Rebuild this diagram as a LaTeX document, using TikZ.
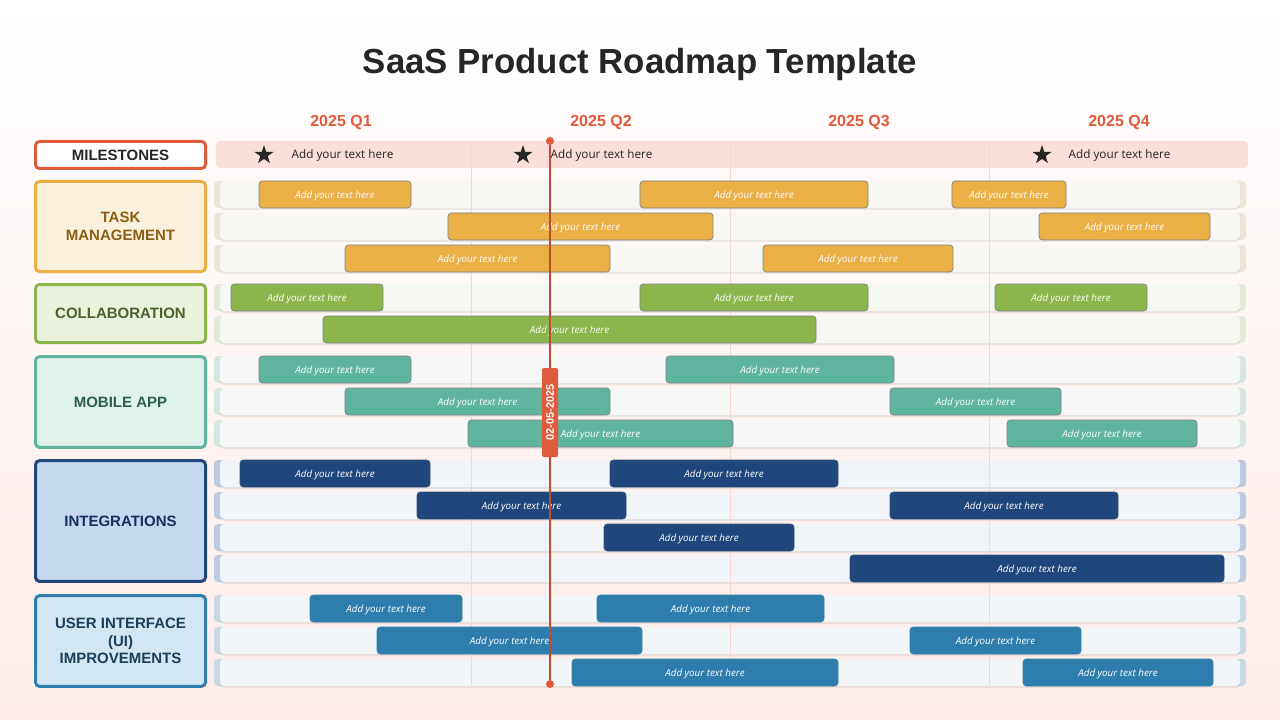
\documentclass[tikz,border=0pt]{standalone}
\usepackage{fontspec}
\setmainfont{Liberation Sans}
\newfontfamily\barfont{Open Sans}
\usetikzlibrary{shapes.geometric,shadows}
\definecolor{accent}{HTML}{E05A3C}
\definecolor{pagepink}{HTML}{FDECE8}
\definecolor{bandpink}{HTML}{FBDDD9}
\definecolor{gridpink}{HTML}{F8D5CD}
\definecolor{ink}{HTML}{262626}
\definecolor{taskc}{HTML}{EBB045}
\definecolor{collabc}{HTML}{8CB54C}
\definecolor{mobilec}{HTML}{5FB5A0}
\definecolor{integc}{HTML}{20477B}
\definecolor{uic}{HTML}{2E7EAD}
\definecolor{taskfill}{HTML}{FBF0DB}
\definecolor{collabfill}{HTML}{EAF2DE}
\definecolor{mobilefill}{HTML}{DFF2EC}
\definecolor{integfill}{HTML}{C6D7F0}
\definecolor{uifill}{HTML}{D2E6F3}
\definecolor{tasktext}{HTML}{8B5E14}
\definecolor{collabtext}{HTML}{4A6228}
\definecolor{mobiletext}{HTML}{2B5F52}
\definecolor{integtext}{HTML}{14305A}
\definecolor{uitext}{HTML}{1A3F5C}
\definecolor{tasktab}{HTML}{EDE6D8}
\definecolor{collabtab}{HTML}{E4EADA}
\definecolor{mobiletab}{HTML}{D6E6E1}
\definecolor{integtab}{HTML}{BCCAE0}
\definecolor{uitab}{HTML}{C6D9E3}
\definecolor{taskrow}{HTML}{F9F7F4}
\definecolor{collabrow}{HTML}{F6F8F3}
\definecolor{mobilerow}{HTML}{F5F8F7}
\definecolor{integrow}{HTML}{F1F4F9}
\definecolor{uirow}{HTML}{F2F6F9}
\tikzset{
every node/.style={inner sep=0pt, align=center},
catbox/.style={rectangle, rounded corners=3pt, line width=2.25pt, minimum width=127.5pt, font=\fontsize{11.25}{13.2}\selectfont\bfseries},
quarter/.style={text=accent, font=\fontsize{12}{14}\selectfont\bfseries},
milenote/.style={text=ink, text depth=0pt, font=\barfont\fontsize{8.8}{10}\selectfont},
milestar/.style={star, star points=5, star point ratio=2.6, fill=ink, minimum size=15pt},
track/.style={rectangle, rounded corners=3pt, fill=#1, minimum width=765pt, minimum height=20.25pt, general shadow={fill=black, opacity=.07, shadow xshift=0pt, shadow yshift=-1.5pt, scale=1}},
tab/.style={rectangle, rounded corners=3pt, fill=#1, minimum width=774pt, minimum height=20.25pt},
bar/.style={rectangle, rounded corners=2.5pt, draw=gray, line width=.5pt, minimum height=20.25pt, text=white, text depth=0pt, font=\barfont\itshape\fontsize{7.35}{8}\selectfont},
taskbar/.style={bar, fill=taskc, minimum width=#1*0.75pt},
collabbar/.style={bar, fill=collabc, minimum width=#1*0.75pt},
mobilebar/.style={bar, fill=mobilec, minimum width=#1*0.75pt},
integbar/.style={bar, fill=integc, draw=integc!80!gray, minimum width=#1*0.75pt},
uibar/.style={bar, fill=uic, draw=uic!80!gray, minimum width=#1*0.75pt},
enddot/.style={circle, fill=accent, minimum size=6pt}
}
\begin{document}
\begin{tikzpicture}[x=0.75pt, y=-0.75pt]
\shade[top color=white, bottom color=pagepink] (0,0) rectangle (1280,720);
\useasboundingbox (0,0) rectangle (1280,720);

\node [text=ink, font=\fontsize{26.1}{31}\selectfont\bfseries] (title) at (640,64.5) {SaaS Product Roadmap Template};

\node [quarter] (q1) at (341,122) {2025 Q1};
\node [quarter] (q2) at (601,122) {2025 Q2};
\node [quarter] (q3) at (859,122) {2025 Q3};
\node [quarter] (q4) at (1119,122) {2025 Q4};

% left column
\node [catbox, draw=accent, fill=white, text=ink, minimum height=20.25pt] (milestones) at (120.5,155) {MILESTONES};
\node [catbox, draw=taskc, fill=taskfill, text=tasktext, minimum height=67.5pt] (task) at (120.5,226.5) {TASK\\MANAGEMENT};
\node [catbox, draw=collabc, fill=collabfill, text=collabtext, minimum height=43.5pt] (collab) at (120.5,313.5) {COLLABORATION};
\node [catbox, draw=mobilec, fill=mobilefill, text=mobiletext, minimum height=68pt] (mobile) at (120.5,402) {MOBILE APP};
\node [catbox, draw=integc, fill=integfill, text=integtext, minimum height=90.5pt] (integ) at (120.5,521) {INTEGRATIONS};
\node [catbox, draw=uic, fill=uifill, text=uitext, minimum height=68pt] (ui) at (120.5,641) {USER INTERFACE\\(UI)\\IMPROVEMENTS};

% milestone band
\node [rectangle, rounded corners=3pt, fill=bandpink, minimum width=774pt, minimum height=20.25pt] (band) at (732,154.5) {};

% tracks
\node [tab=tasktab] (tabT1) at (730,194.5) {};
\node [track=taskrow] (rowT1) at (730,194.5) {};
\node [tab=tasktab] (tabT2) at (730,226.5) {};
\node [track=taskrow] (rowT2) at (730,226.5) {};
\node [tab=tasktab] (tabT3) at (730,258.5) {};
\node [track=taskrow] (rowT3) at (730,258.5) {};
\node [tab=collabtab] (tabC1) at (730,297.5) {};
\node [track=collabrow] (rowC1) at (730,297.5) {};
\node [tab=collabtab] (tabC2) at (730,329.5) {};
\node [track=collabrow] (rowC2) at (730,329.5) {};
\node [tab=mobiletab] (tabM1) at (730,369.5) {};
\node [track=mobilerow] (rowM1) at (730,369.5) {};
\node [tab=mobiletab] (tabM2) at (730,401.5) {};
\node [track=mobilerow] (rowM2) at (730,401.5) {};
\node [tab=mobiletab] (tabM3) at (730,433.5) {};
\node [track=mobilerow] (rowM3) at (730,433.5) {};
\node [tab=integtab] (tabI1) at (730,473.5) {};
\node [track=integrow] (rowI1) at (730,473.5) {};
\node [tab=integtab] (tabI2) at (730,505.5) {};
\node [track=integrow] (rowI2) at (730,505.5) {};
\node [tab=integtab] (tabI3) at (730,537.5) {};
\node [track=integrow] (rowI3) at (730,537.5) {};
\node [tab=integtab] (tabI4) at (730,568.5) {};
\node [track=integrow] (rowI4) at (730,568.5) {};
\node [tab=uitab] (tabU1) at (730,608.5) {};
\node [track=uirow] (rowU1) at (730,608.5) {};
\node [tab=uitab] (tabU2) at (730,640.5) {};
\node [track=uirow] (rowU2) at (730,640.5) {};
\node [tab=uitab] (tabU3) at (730,672.5) {};
\node [track=uirow] (rowU3) at (730,672.5) {};

% quarter dividers
\node (d1top) at (471.5,141) {};
\node (d1end) at (471.5,686) {};
\node (d2top) at (730.5,141) {};
\node (d2end) at (730.5,686) {};
\node (d3top) at (989.5,141) {};
\node (d3end) at (989.5,686) {};
\draw[gridpink, line width=.75pt] (d1top) -- (d1end);
\draw[gridpink, line width=.75pt] (d2top) -- (d2end);
\draw[gridpink, line width=.75pt] (d3top) -- (d3end);

% milestones
\node [milestar] (star1) at (264,155) {};
\node [milestar] (star2) at (523,155) {};
\node [milestar] (star3) at (1042,155) {};
\node [milenote] (note1) at (342.5,154) {Add your text here};
\node [milenote] (note2) at (601.5,154) {Add your text here};
\node [milenote] (note3) at (1119.5,154) {Add your text here};

% bars
\node [taskbar=152] (barT1a) at (335,194.5) {Add your text here};
\node [taskbar=228] (barT1b) at (754,194.5) {Add your text here};
\node [taskbar=114] (barT1c) at (1009,194.5) {Add your text here};
\node [taskbar=265] (barT2a) at (580.5,226.5) {Add your text here};
\node [taskbar=171] (barT2b) at (1124.5,226.5) {Add your text here};
\node [taskbar=265] (barT3a) at (477.5,258.5) {Add your text here};
\node [taskbar=190] (barT3b) at (858,258.5) {Add your text here};

\node [collabbar=152] (barC1a) at (307,297.5) {Add your text here};
\node [collabbar=228] (barC1b) at (754,297.5) {Add your text here};
\node [collabbar=152] (barC1c) at (1071,297.5) {Add your text here};
\node [collabbar=493] (barC2a) at (569.5,329.5) {Add your text here};

\node [mobilebar=152] (barM1a) at (335,369.5) {Add your text here};
\node [mobilebar=228] (barM1b) at (780,369.5) {Add your text here};
\node [mobilebar=265] (barM2a) at (477.5,401.5) {Add your text here};
\node [mobilebar=171] (barM2b) at (975.5,401.5) {Add your text here};
\node [mobilebar=265] (barM3a) at (600.5,433.5) {Add your text here};
\node [mobilebar=190] (barM3b) at (1102,433.5) {Add your text here};

\node [integbar=190] (barI1a) at (335,473.5) {Add your text here};
\node [integbar=228] (barI1b) at (724,473.5) {Add your text here};
\node [integbar=209] (barI2a) at (521.5,505.5) {Add your text here};
\node [integbar=228] (barI2b) at (1004,505.5) {Add your text here};
\node [integbar=190] (barI3a) at (699,537.5) {Add your text here};
\node [integbar=374] (barI4a) at (1037,568.5) {Add your text here};

\node [uibar=152] (barU1a) at (386,608.5) {Add your text here};
\node [uibar=227] (barU1b) at (710.5,608.5) {Add your text here};
\node [uibar=265] (barU2a) at (509.5,640.5) {Add your text here};
\node [uibar=171] (barU2b) at (995.5,640.5) {Add your text here};
\node [uibar=266] (barU3a) at (705,672.5) {Add your text here};
\node [uibar=190] (barU3b) at (1118,672.5) {Add your text here};

% today line
\node [enddot] (todayTop) at (550,141) {};
\node [enddot] (todayEnd) at (550,684) {};
\draw[accent!85!black, line width=1.8pt] (todayTop) -- (todayEnd);
\node [rectangle, rounded corners=1.5pt, fill=accent, minimum width=66.75pt, minimum height=12pt, text=white, rotate=90, font=\fontsize{8.2}{9}\selectfont\bfseries] (today) at (550,412.5) {02-05-2025};
\end{tikzpicture}
\end{document}
